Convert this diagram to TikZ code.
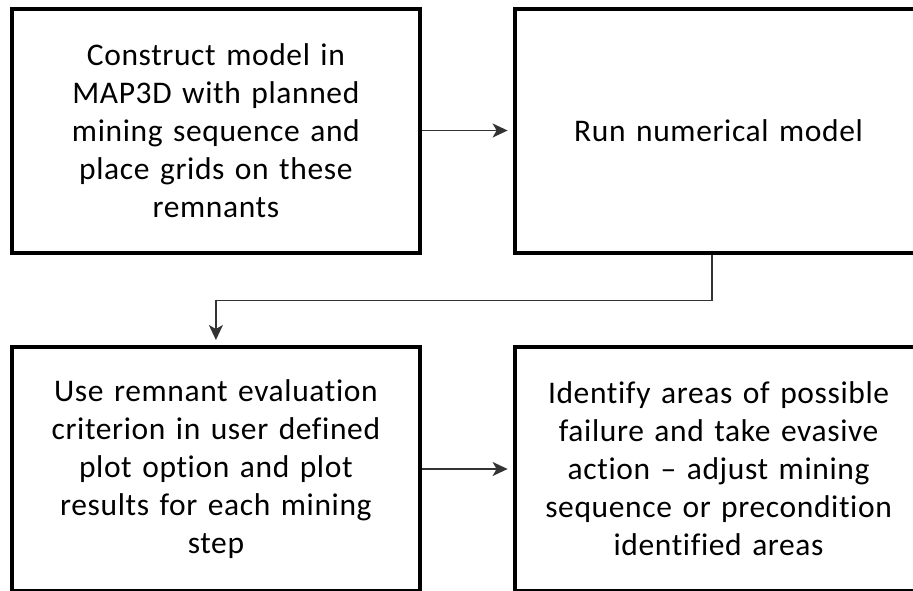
\documentclass[tikz,border=0pt]{standalone}
\usepackage{fontspec}
\setmainfont{Carlito}[Ligatures=NoCommon, LetterSpace=2]
\usetikzlibrary{arrows.meta,positioning,calc}
\tikzset{
  stepbox/.style ={draw=black, line width=4pt, align=center, fill=white,
                   minimum width=408pt, minimum height=244pt, inner sep=6pt,
                   text width=390pt, font=\fontsize{31.5}{38}\selectfont},
  flowarrow/.style={-{Stealth[length=15pt,width=14pt,inset=4pt]},
                   line width=1.8pt, draw=black!80, shorten >=5pt},
  flowline/.style ={line width=1.8pt, draw=black!80},
}
\begin{document}
\begin{tikzpicture}[x=1pt, y=-1pt, node distance=90.5pt and 90.7pt]
  \useasboundingbox (0,0) rectangle (913,590);

  % ---- top row ----
  \node[stepbox] (construct) at (215.9,130.5)
    {Construct model in\\ MAP3D with planned\\ mining sequence and\\
     place grids on these\\ remnants};
  \node[stepbox, right=of construct] (run) {Run numerical model};

  % ---- bottom row ----
  \node[stepbox, below=of construct] (evaluate)
    {Use remnant evaluation\\ criterion in user defined\\ plot option and plot\\
     results for each mining\\ step};
  \node[stepbox, right=of evaluate] (identify)
    {Identify areas of possible\\ failure and take evasive\\ action -- adjust mining\\
     sequence or precondition\\ identified areas};

  % ---- arrows ----
  \draw[flowarrow] (construct) -- (run);
  \coordinate (turn) at ($([xshift=-7pt]run.south)+(0,46)$);
  \draw[flowline]  ([xshift=-7pt]run.south) -- (turn);
  \draw[flowarrow] (turn) -| (evaluate.north);
  \draw[flowarrow] (evaluate) -- (identify);

\end{tikzpicture}
\end{document}
